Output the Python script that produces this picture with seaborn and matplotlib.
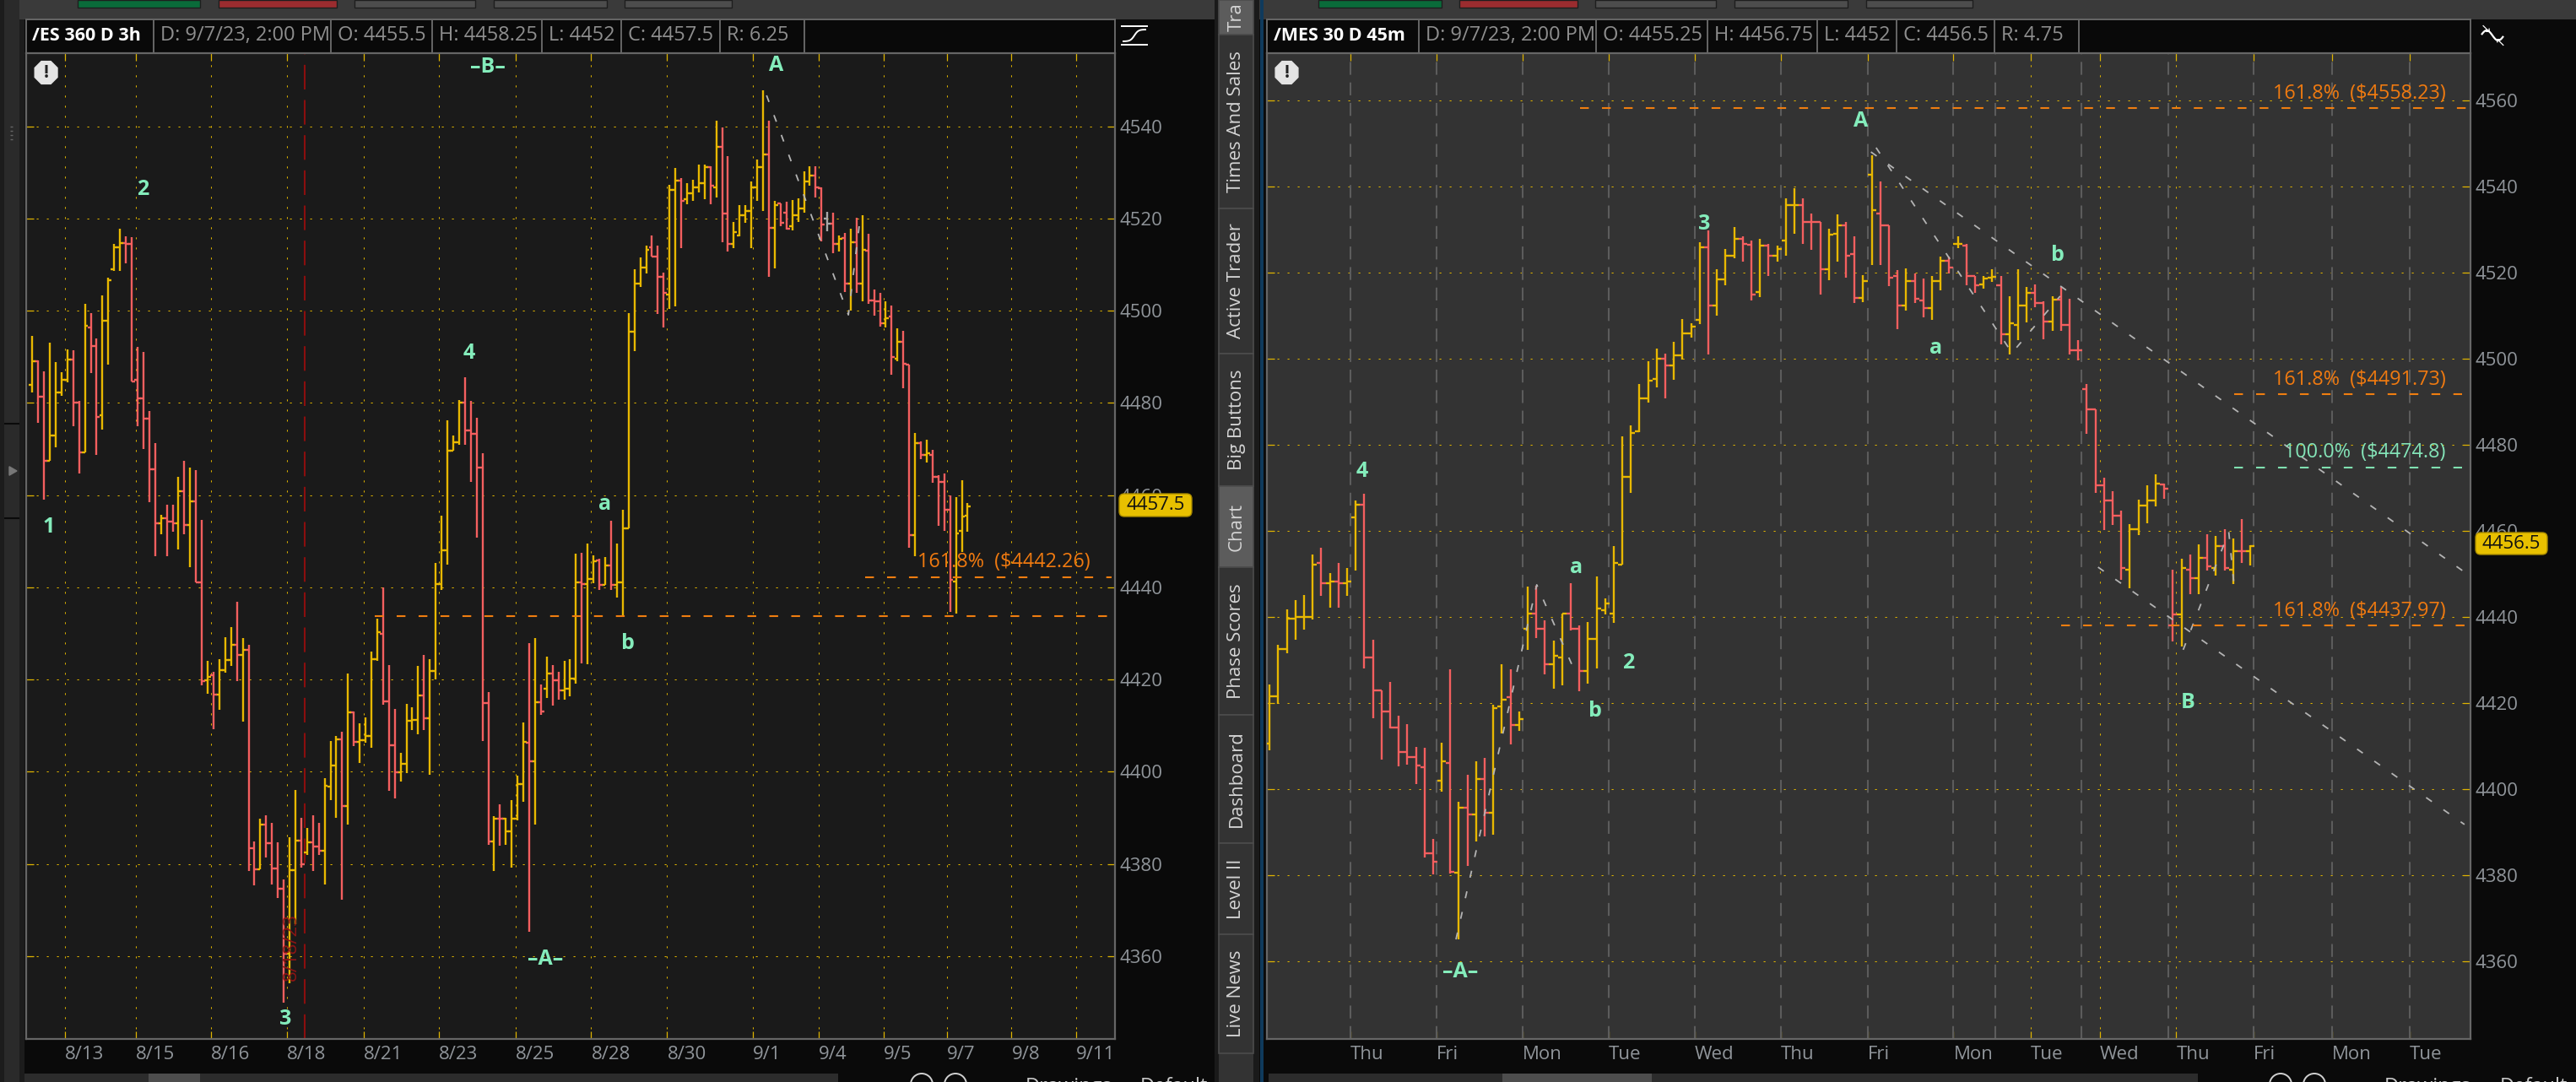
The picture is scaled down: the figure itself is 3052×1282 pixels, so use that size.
import numpy as np
import pandas as pd
import seaborn as sns
import matplotlib
matplotlib.use("Agg")
import matplotlib.pyplot as plt
from matplotlib.patches import Rectangle, FancyBboxPatch, RegularPolygon, Circle

# ------------------------------------------------------------------ data
ES_OPEN = [4484,4489,4481.4,4467.5,4473,4482.2,4485,4489.4,4480,4469.2,
 4496.4,4492.4,4477.4,4497.8,4509,4513.7,4514.7,4514.4,4485,4481,
 4476.6,4465.6,4453.9,4455,4454.3,4453.9,4460.9,4453.5,4458.6,4441.1,
 4419.9,4421,4416.8,4422,4424.2,4427.6,4425.3,4426.4,4383.5,4378.9,
 4388.6,4384.5,4379,4374.7,4360.5,4378.6,4385,4382.6,4384.7,4383.8,
 4382.8,4396.8,4401.4,4407,4392.6,4412.9,4406.5,4406.9,4407.7,4424.5,
 4430,4415.3,4405.8,4399.9,4401.8,4411,4411.2,4416.5,4411.7,4421.9,
 4440.8,4448,4469.7,4471.5,4480,4474.1,4473.3,4466,4415,4384.9,
 4389.9,4389.8,4387.1,4389.8,4397.3,4406.3,4402.2,4415.1,4418,4421.4,
 4419.8,4417.6,4418,4420.2,4441.1,4440.8,4441.9,4445.8,4440.5,4444.8,
 4440.5,4441,4452.8,4495.4,4505.9,4509.3,4513.7,4511.8,4507.4,4503.5,
 4526.2,4528.3,4524.2,4525.4,4526.8,4527.6,4531.2,4526.8,4535.6,4521,
 4514.5,4516.4,4520.7,4521.6,4526.8,4531.2,4533.8,4518,4523.2,4521.3,
 4518.4,4520.7,4522.1,4528,4529.4,4526.6,4519.9,4518.8,4514.5,4515.8,
 4505.9,4514.8,4505.9,4513.1,4502.3,4502,4497.3,4498.7,4489.6,4493.2,
 4488.3,4451.4,4471.3,4468.7,4468.8,4463.9,4462.8,4456.9,4441.2,4452.2,
 4455.5]
ES_HIGH = [4494.6,4489.2,4486.9,4493.1,4488.8,4486.6,4491.6,4491.4,4480.4,4501.4,
 4499.5,4493.9,4503.4,4507.1,4514.4,4517.8,4516.2,4515.9,4492.2,4491,
 4478.2,4471.2,4455.8,4458,4458,4464,4467.5,4465.9,4465.5,4454.6,
 4424,4421.7,4424.4,4429.1,4431.3,4436.8,4429,4427.5,4384.9,4389.8,
 4390.5,4389,4384.7,4376.6,4385.8,4396,4390,4387.9,4390.5,4389,
 4398.6,4406.7,4407.8,4408.6,4421.4,4413,4410.5,4411.8,4426.1,4433.2,
 4440,4423.1,4413.6,4404.1,4414.7,4414,4422.9,4425.3,4424.4,4445.3,
 4455.5,4476.3,4473,4480.7,4485.5,4480.4,4476.7,4469,4417.2,4390.4,
 4393,4390.1,4393.8,4399.2,4410.7,4427.9,4429,4418.9,4425,4423.2,
 4421.7,4424,4424.4,4447.3,4447.4,4449.5,4446.9,4446.2,4446.5,4454.5,
 4449.5,4456.9,4499.5,4509,4511.5,4514.1,4516.3,4514.1,4508.2,4527.3,
 4530.9,4528.7,4527.6,4528.4,4531.6,4531.6,4531.3,4541.2,4539.8,4533.5,
 4519.2,4522.9,4522.9,4528,4532.7,4547.8,4541.2,4523.9,4523.3,4523.6,
 4524,4524.4,4530.2,4531.3,4531.3,4526.8,4521.5,4521.3,4516.3,4516.9,
 4517.8,4520.2,4520.7,4516.6,4504.6,4503.8,4502,4501.2,4496.2,4495.7,
 4488.3,4473.5,4471.6,4472,4469.8,4464.4,4464.7,4459.9,4459.6,4463.3,
 4458.25]
ES_LOW = [4482.3,4475.7,4459,4467.5,4470.3,4481.6,4484.5,4475,4464.7,4469.2,
 4486.4,4468.8,4474.3,4488.3,4508.7,4508.7,4510.2,4484.7,4475,4470,
 4458.5,4446.8,4451.5,4446.8,4452,4448.3,4451.5,4444.3,4441.1,4418.7,
 4417,4409.3,4413.5,4421.5,4422.9,4419.6,4410.8,4378.5,4375.3,4378.9,
 4381.4,4375.6,4372.6,4350,4354.2,4367,4379.2,4381.9,4378.5,4381.9,
 4375.5,4393.9,4390.1,4372.3,4388.6,4405.6,4402,4406.3,4405.2,4424,
 4414.6,4395.8,4394.3,4397.9,4399.8,4409,4408.2,4409,4399.4,4420,
 4439.5,4445,4469.7,4471,4470.9,4462.9,4450.8,4406.7,4384.1,4378.5,
 4384,4384.1,4379.2,4389.4,4393.5,4365.3,4388.6,4412.3,4416,4414.4,
 4415.6,4415.6,4416.3,4419.1,4423.6,4423.4,4440.9,4439.4,4440.5,4439.4,
 4437.7,4433.8,4452.8,4491.3,4505.2,4508,4511.7,4499.2,4496.3,4500.4,
 4501,4513.5,4523.1,4523.8,4525.6,4524.1,4523.1,4524.5,4514.9,4512.8,
 4513.5,4516.1,4519,4513.5,4523.8,4521.6,4507.3,4509.1,4518.3,4517.6,
 4517.5,4519.3,4521.2,4527.1,4524.5,4515,4517.2,4512.5,4512.8,4504.1,
 4500.1,4503.8,4502,4501.5,4498.9,4496.5,4496.3,4486.1,4489.1,4483.2,
 4448.6,4446.8,4467.8,4467,4462.6,4453.4,4452.3,4434.7,4434.3,4447.6,
 4452]
ES_CLOSE = [4489.1,4481.4,4467.5,4473,4482.2,4485,4489.4,4480,4469.2,4496.8,
 4492.4,4477,4497.8,4506.7,4513.7,4514.7,4514.4,4484.7,4481,4476.6,
 4465.6,4453.9,4455,4454.3,4453.9,4460.9,4453.5,4458.6,4441.1,4419.6,
 4420.6,4416.8,4422,4424.2,4427.6,4425.3,4426.4,4383.5,4378.9,4388.6,
 4384.5,4379,4374.7,4360.5,4378.6,4385,4380,4384.7,4383.8,4382.8,
 4397,4401.4,4407,4392.6,4412.9,4406.5,4406.9,4407.7,4424.5,4430.2,
 4415.3,4405.8,4399.9,4401.8,4411,4411.2,4416.5,4411.7,4421.9,4440.8,
 4448,4469.7,4471.5,4480,4474.1,4473.3,4466,4415,4384.9,4389.9,
 4389.8,4387.1,4389.8,4397.3,4406.5,4402.2,4415.1,4413.1,4421.4,4419.8,
 4417.6,4418,4420.2,4441.1,4440.8,4441.9,4445.6,4440.5,4444.8,4440.5,
 4441.1,4452.8,4495.4,4505.9,4509.3,4513.2,4511.8,4507.4,4503.8,4526.2,
 4528.3,4523.9,4525.4,4526.8,4527.6,4531.2,4527.1,4535.6,4521,4514.5,
 4517,4520.7,4521.6,4526.8,4531.2,4533.8,4518,4522.9,4519.1,4517.8,
 4520.7,4522.1,4528,4529.4,4526.8,4518.7,4518.8,4514.5,4515.6,4505.9,
 4514.8,4505.9,4513.2,4502.3,4502,4497.3,4498.3,4489.9,4493.2,4488.5,
 4451.4,4471.3,4468.7,4469.1,4463.9,4462.8,4456.9,4441.6,4451.7,4455.4,
 4457.5]
ES_DIR = """u d d u u u u d d u  d d u u u u d d d d  d d u d d u d u d d
 u d u u u d u d d u  d d d d u u d u d d  u u u d u d u u u u
 d d d u u u u d u u  u u u u d d d d d u  d u u u u d u d u d
 d u u u d u u d u d  u u u u u u d d d u  u d u u u u d u d d
 u u u u u u d u d d  u u u u d d n d u d  u d u d d d u d u d
 d u d u d d d d u u u""".split()

MES_OPEN = [4410.6,4421.6,4432.6,4439.6,4440,4440,4452.6,4447.8,4448.3,4447.8,
 4463.1,4466.2,4430.7,4422.9,4418.1,4414.4,4408.7,4407.5,4405.2,4385.1,
 4402,4406,4380.5,4395.7,4394.2,4402.4,4394.5,4419.2,4421.3,4415,
 4437.3,4440.8,4437.3,4429,4430.7,4440.8,4437.2,4427.4,4434.9,4441.5,
 4440.8,4452.2,4472.6,4483.1,4490.9,4495.4,4500,4498.4,4500.8,4505.9,
 4509,4526,4512.5,4518.4,4524,4527.9,4526.5,4515.5,4526.3,4524,
 4527.5,4535.7,4535.7,4531.8,4531.8,4520.9,4529.1,4531.1,4524.4,4514.1,
 4542.8,4533.8,4531.1,4519.3,4512.5,4518.1,4513.5,4511.8,4518.1,4522.8,
 4526.8,4526.3,4519.3,4517.4,4518.8,4517.2,4505.7,4507.9,4512.5,4515.3,
 4513,4508.6,4513.7,4507.9,4502,4492.9,4488.2,4470.7,4467.1,4463.6,
 4451,4460.5,4465.9,4467.1,4470.8,4438.1,4440.7,4451,4449,4453.8,
 4451.4,4456.5,4451,4455.3,4455.25]
MES_HIGH = [4424.4,4433.5,4441.7,4444,4445.2,4454.6,4456.2,4450.3,4452.6,4451.5,
 4467,4468.7,4434.7,4422.9,4424.9,4417.1,4415.1,4409.9,4409.6,4388.4,
 4410.8,4427.9,4397,4403.3,4406.4,4407.2,4419.7,4429.1,4427.9,4418.1,
 4447.1,4447.3,4439.3,4434.5,4440.8,4447.8,4438,4438.9,4449.4,4444.3,
 4456.6,4482,4484.5,4494.2,4499.4,4502.5,4501.3,4504,4509.2,4508.3,
 4527.2,4529.8,4520.9,4525.6,4530.7,4528.4,4527.6,4527.9,4526.8,4526.3,
 4537.4,4539.6,4537.4,4533.8,4531.8,4530.3,4533.5,4531.8,4528.4,4519.5,
 4547.4,4541.3,4531.1,4520.6,4521.1,4519.8,4518.6,4519.3,4523.7,4523.7,
 4528.4,4526.8,4519.3,4519.3,4520.9,4519.3,4514.6,4520.9,4516.7,4517.4,
 4513.4,4514.6,4516.7,4513.9,4504.4,4494.2,4488.2,4472.3,4469.2,4464.8,
 4461.6,4467.2,4470.7,4473.1,4471.1,4451,4453.5,4454.6,4456.9,4459.3,
 4458.9,4460.5,4458.2,4462.8,4456.75]
MES_LOW = [4409,4419.9,4431.6,4434.8,4437,4439.4,4444.9,4442.2,4442.2,4444.9,
 4450.8,4428,4416.4,4406.9,4414.1,4405.4,4405.7,4401.1,4384.2,4380.2,
 4399.5,4380.3,4365,4382.2,4387.8,4389,4389.4,4412.9,4410.4,4413.6,
 4432.4,4435.1,4426.6,4423.4,4424.2,4436.9,4422.7,4424.6,4428,4440.6,
 4438.7,4452.2,4468.9,4482.9,4489.8,4493.3,4490.8,4495.1,4499.8,4505,
 4508.1,4501.1,4510.1,4517.2,4523.4,4522.7,4513.6,4514.4,4519.2,4522.7,
 4523.9,4529,4526.7,4525.4,4514.9,4518.3,4522.7,4518.8,4512.9,4513.2,
 4521.8,4521.9,4516.9,4506.9,4511.3,4512.9,4509.7,4509,4516,4519.9,
 4525.8,4517.2,4515.3,4516.4,4517.9,4503.4,4501.1,4504.3,4508.5,4512.1,
 4504.5,4506.5,4506.5,4501.1,4499.7,4482.5,4468.9,4460.2,4461.5,4448.6,
 4446.6,4459,4461.8,4465.8,4467.4,4434.4,4433.2,4445.4,4445.4,4450.8,
 4449.7,4450.8,4447.6,4452.5,4452]
MES_CLOSE = [4421.6,4432.6,4439.6,4440,4440,4452.2,4447.8,4448.3,4447.8,4448.3,
 4466.2,4430.7,4422.9,4418.1,4414.4,4408.7,4407.5,4405.5,4385.1,4383.1,
 4406.4,4380.7,4395.7,4394.2,4402.4,4394.5,4418.8,4420.9,4415,4416.2,
 4440.8,4437.3,4429,4431,4440.8,4437.2,4427.4,4434.9,4441.9,4443.1,
 4452.5,4472.5,4482.7,4490.9,4494.9,4500,4498.4,4500.8,4505.9,4507.5,
 4526,4512.5,4518.4,4524,4527.9,4526.8,4515,4526.3,4524,4525.6,
 4535.8,4535.7,4531.8,4531.8,4520.9,4528.8,4531.1,4524,4514.1,4518.1,
 4534.6,4531.1,4518.8,4512.5,4518.1,4513.9,4511.8,4518.1,4522.8,4521.2,
 4526.8,4519.3,4517.1,4518.6,4519,4505.7,4508.3,4512.5,4515.3,4513,
 4508.6,4513.7,4507.9,4502,4502,4488.2,4470.7,4467.1,4463.6,4451.4,
 4460.5,4465.9,4467.1,4471.1,4469.8,4440.7,4451.4,4449,4453.8,4451.8,
 4456.5,4451.4,4455.3,4455.3,4456.5]
MES_DIR = """u u u u u u d u d u  u d d d d d d d d d  u d u d u d u u d u
 u d d u u d d u u u  u u u u u u d u u u  u d u u u d d u d u
 u u d d d u u d d u  u d d d u d d u u d  u d d u u d u u u d
 d u d d d d d d d d  u u u u d d u d u d  u d u d u""".split()

ES_TICK_POS = [5.52,17.7,30.6,43.6,56.65,69.6,82.7,95.6,108.6,123.3,134.5,145.6,156.5,167.5,178.5]
ES_TICK_LAB = ["8/13","8/15","8/16","8/18","8/21","8/23","8/25","8/28","8/30","9/1","9/4","9/5","9/7","9/8","9/11"]
MES_TICK_POS = [9.4,19.4,29.4,39.4,49.4,59.4,69.5,79.5,88.5,96.5,105.4,114.4,123.5,132.5]
MES_TICK_LAB = ["Thu","Fri","Mon","Tue","Wed","Thu","Fri","Mon","Tue","Wed","Thu","Fri","Mon","Tue"]
MES_DAY_LINES = [9.4,19.4,29.4,39.4,49.4,59.4,69.5,79.5,84.4,94.4,104.5,114.4,123.5,132.5]
MES_DOT_LINES = [88.5,96.5,105.4]
ES_Y = [4360,4380,4400,4420,4440,4460,4480,4500,4520,4540]
MES_Y = [4360,4380,4400,4420,4440,4460,4480,4500,4520,4540,4560]

ES_WAVE = [("1",2.8,4453.1),("2",18.9,4526.2),("3",43.3,4346.3),("4",74.7,4490.7),("a",98,4458.1),
           ("b",101.9,4427.9),("–A–",87.8,4359.4),("–B–",77.9,4552.8),("A",127.2,4553.2)]
MES_WAVE = [("4",10.75,4473.9),("a",35.6,4451.6),("2",41.7,4429.4),("b",37.8,4418.1),("–A–",22.2,4357.6),
            ("3",50.5,4531.4),("A",68.7,4555.2),("a",77.4,4502.6),("b",91.6,4524),("B",106.7,4420.2)]
ES_TREND = [[(125.6,4546.7),(139.6,4499.1),(141.5,4518.9)]]
MES_TREND = [[(21.66,4365.1),(31.05,4447.5),(35.5,4427.3)],
             [(70.5,4549.1),(86.3,4501.4),(91.9,4514.6)],
             [(69.9,4548.1),(139.3,4449.9)],
             [(96.3,4451.6),(138.9,4391.8)],
             [(106.2,4432.4),(111.5,4459.8),(112.1,4447.7)]]
# level, first bar index, last bar index, colour key, label
ES_LEVELS = [(4442.26,142.5,184.6,"o","161.8%  ($4442.26)"),(4433.7,58.6,184.6,"o",None)]
MES_LEVELS = [(4558.23,36.1,139.3,"o","161.8%  ($4558.23)"),(4491.73,112.1,138.6,"o","161.8%  ($4491.73)"),
              (4474.8,112.1,138.6,"g","100.0%  ($4474.8)"),(4437.97,92.0,138.9,"o","161.8%  ($4437.97)")]
ES_HEAD = [("/ES 360 D 3h",38),("D: 9/7/23, 2:00 PM",190),("O: 4455.5",400),("H: 4458.25",520),("L: 4452",650),("C: 4457.5",744),("R: 6.25",861)]
MES_HEAD = [("/MES 30 D 45m",1509),("D: 9/7/23, 2:00 PM",1689),("O: 4455.25",1899),("H: 4456.75",2031),("L: 4452",2161),("C: 4456.5",2255),("R: 4.75",2371)]
TABS = [("Tra",0,41),("Times And Sales",41,247),("Active Trader",247,419),("Big Buttons",419,576),("Chart",576,672),
        ("Phase Scores",672,847),("Dashboard",847,999),("Level II",999,1107),("Live News",1107,1248)]

# ------------------------------------------------------------------ style
W, H = 3052, 1282
sns.set_theme(style="dark")
plt.rcParams.update({"font.family": ["Open Sans", "DejaVu Sans"], "lines.scale_dashes": False,
                     "axes.grid": False, "lines.solid_capstyle": "butt"})
YEL, RED, GRY = "#e8b800", "#f45f5f", "#a8a8a8"
PAL = {"u": YEL, "d": RED, "n": GRY}
GRID = "#e0b400"
GREEN = "#84ecbb"
LEVEL_COL = {"o": "#ef7d10", "g": "#7fe0b0"}
TXT_ORANGE = {"o": "#f07a10", "g": "#84e4b8"}
DOT = (0, (1.6, 7.04))
LVL = (0, (7.5, 11.2))
TRD = (0, (6, 12))
BORDER = "#666666"
LABEL = "#90959a"
BAR_LW = 1.7

fig = plt.figure(figsize=(W / 100, H / 100), dpi=100, facecolor="#0a0a0a")

def px_axes(l, t, r, b, z):
    return fig.add_axes([l / W, 1 - b / H, (r - l) / W, (b - t) / H], zorder=z)

bg = px_axes(0, 0, W, H, 0)
bg.set_xlim(0, W); bg.set_ylim(H, 0); bg.axis("off")
over = px_axes(0, 0, W, H, 5)
over.set_xlim(0, W); over.set_ylim(H, 0); over.axis("off"); over.patch.set_alpha(0)

def rect(a, x0, y0, x1, y1, c, **k):
    a.add_patch(Rectangle((x0, y0), x1 - x0, y1 - y0, facecolor=c, edgecolor=k.pop("ec", "none"), lw=k.pop("lw", 0), **k))

# ------------------------------------------------------------------ chrome
rect(bg, 0, 0, W, 23, "#3a3a3a")
rect(bg, 5, 0, 23, H, "#2a2a2a")
rect(bg, 0, 0, 5, H, "#1c1c1c")
rect(bg, 23, 23, 29, H, "#1c1c1c")
for y in (502, 614):
    bg.plot([5, 23], [y, y], color="#0a0a0a", lw=1.5)
for y in (150, 155, 160, 165):
    bg.plot([12, 15], [y, y], color="#666666", lw=1)
bg.add_patch(RegularPolygon((14, 558), 3, radius=6, orientation=-np.pi / 2, color="#777777"))
for x0, x1, c in [(92, 237, "#0a6b3a"), (259, 399, "#9b2c2f"), (420, 563, "#4d4d4d"), (585, 719, "#4d4d4d"), (740, 867, "#4d4d4d"),
                  (1562, 1708, "#0a6b3a"), (1729, 1869, "#9b2c2f"), (1890, 2033, "#4d4d4d"), (2055, 2189, "#4d4d4d"), (2211, 2337, "#4d4d4d")]:
    rect(bg, x0, 0, x1, 9, c, ec="#1e1e1e", lw=1)

for head, x0, x1 in [(ES_HEAD, 31, 1321), (MES_HEAD, 1501, 2927)]:
    rect(bg, x0, 23, x1, 63, "#090909", ec=BORDER, lw=1.4)
    for i, (txt, x) in enumerate(head):
        bg.text(x, 42, txt, color="white" if i == 0 else "#8e8e8e", fontsize=15.5 if i == 0 else 17,
                fontweight="bold" if i == 0 else "normal", va="center", ha="left")
        if i:
            bg.plot([x - 8, x - 8], [23, 63], color=BORDER, lw=1.4)
    last = head[-1][1] + 92
    bg.plot([last, last], [23, 63], color=BORDER, lw=1.4)

rect(bg, 1439, 0, 1492, H, "#1a1a1a")
rect(bg, 1444, 0, 1485, 1282, "#333333")
rect(bg, 1493, 0, 1497, H, "#0f3a5c")
for txt, y0, y1 in TABS:
    lit = txt in ("Chart", "Tra")
    rect(bg, 1444, y0, 1485, y1, "#5c5c5c" if lit else "#333333", ec="#4c4c4c", lw=1.2)
    bg.text(1465, (y0 + y1) / 2, txt, rotation=90, color="#d4d4d4", fontsize=16, va="center", ha="center")

rect(bg, 29, 1272, 993, H, "#2c2c2c")
rect(bg, 176, 1272, 237, H, "#4d4d4d")
rect(bg, 1503, 1272, 2604, H, "#2c2c2c")
rect(bg, 1780, 1272, 1957, H, "#4d4d4d")
for xc in (1092, 1132, 2702, 2742):
    bg.add_patch(Circle((xc, 1285), 13, fill=False, ec="#d0d0d0", lw=1.4))
bg.text(1215, 1276, "Drawings", color="#c8c8c8", fontsize=17, va="top")
bg.text(1351, 1276, "Default", color="#c8c8c8", fontsize=17, va="top")
bg.text(2825, 1276, "Drawings", color="#c8c8c8", fontsize=17, va="top")
bg.text(2962, 1276, "Default", color="#c8c8c8", fontsize=17, va="top")

# small study icons right of the headers
t = np.linspace(-1, 1, 30)
bg.plot(1344 + 14 * t, 42 - 7 * np.tanh(3 * t), color="white", lw=1.4)
bg.plot([1328, 1360], [31, 31], color="white", lw=1.4)
bg.plot([1328, 1360], [53, 53], color="white", lw=1.4)
bg.plot(2953 + 13 * t, 42 + 6 * np.sin(3 * t), color="white", lw=1.6)
bg.text(2945, 34, "↘", color="white", fontsize=11, ha="center", va="center", family="DejaVu Sans")
bg.text(2962, 50, "↖", color="white", fontsize=11, ha="center", va="center", family="DejaVu Sans")

# ------------------------------------------------------------------ charts
def draw(ax, o, h, l, c, d, tick_w, face, xlim, ylim, yt, xt, xl):
    ax.set_facecolor(face)
    frame = pd.DataFrame({"bar": np.arange(len(o)), "open": o, "high": h, "low": l, "close": c, "dir": d})
    long = frame.melt(id_vars=["bar", "dir"], value_vars=["high", "low"], value_name="price")
    for v in yt:
        ax.axhline(v, color=GRID, lw=0.75, ls=DOT, zorder=1)
    sns.lineplot(data=long, x="bar", y="price", hue="dir", units="bar", estimator=None, palette=PAL,
                 legend=False, lw=BAR_LW, sort=False, ax=ax, zorder=3)
    cols = frame["dir"].map(PAL).tolist()
    ax.hlines(frame["open"], frame["bar"] - tick_w, frame["bar"], colors=cols, lw=BAR_LW, zorder=3)
    ax.hlines(frame["close"], frame["bar"], frame["bar"] + tick_w, colors=cols, lw=BAR_LW, zorder=3)
    ax.set_xlim(*xlim); ax.set_ylim(*ylim)
    ax.set_xlabel(""); ax.set_ylabel("")
    ax.set_yticks(yt); ax.set_xticks(xt); ax.set_xticklabels(xl, ha="left")
    ax.tick_params(axis="both", which="major", direction="in", length=6.5, width=0.9, color=GRID,
                   top=True, bottom=True, left=True, right=True, labelleft=False, labelright=True,
                   labelcolor=LABEL, labelsize=16)
    ax.tick_params(axis="y", pad=4); ax.tick_params(axis="x", pad=6)
    for s in ax.spines.values():
        s.set_color(BORDER); s.set_linewidth(1.6); s.set_visible(True)

def overlays(ax, wave, trend, levels, label_x, label_dy):
    for txt, x, y in wave:
        ax.text(x, y, txt, color=GREEN, fontsize=18, fontweight="bold", ha="center", va="center", zorder=6)
    for seg in trend:
        xs, ys = zip(*seg)
        ax.plot(xs, ys, color="#b4b4b4", lw=1.3, ls=TRD, zorder=4)
    for val, x0, x1, key, lab in levels:
        ax.plot([x0, x1], [val, val], color=LEVEL_COL[key], lw=1.5, ls=LVL, zorder=4)
        if lab:
            ax.text(label_x, val + label_dy, lab, color=TXT_ORANGE[key], fontsize=16.8, ha="right", va="center", zorder=6)

a1 = px_axes(31, 63, 1321, 1231, 1)
draw(a1, ES_OPEN, ES_HIGH, ES_LOW, ES_CLOSE, ES_DIR, 0.55, "#1a1a1a", (-1.05, 185.2), (4342.06, 4555.85),
     ES_Y, ES_TICK_POS, ES_TICK_LAB)
for x in ES_TICK_POS:
    a1.axvline(x, color=GRID, lw=0.75, ls=DOT, zorder=1)
a1.axvline(46.6, color="#8b0e0e", lw=1.5, ls=(0, (21, 9)), zorder=2)
a1.text(44.4, 4362, "8/18/23", color="#8b1515", rotation=90, fontsize=16, ha="center", va="center", zorder=6)
overlays(a1, ES_WAVE, ES_TREND, ES_LEVELS, 181, 3.3)

a2 = px_axes(1501, 63, 2927, 1231, 1)
draw(a2, MES_OPEN, MES_HIGH, MES_LOW, MES_CLOSE, MES_DIR, 0.5, "#333333", (-0.32, 139.6), (4341.95, 4571.06),
     MES_Y, MES_TICK_POS, MES_TICK_LAB)
for x in MES_DAY_LINES:
    a2.axvline(x, color="#5c5c5c", lw=1.5, ls=(0, (11, 6.5)), zorder=1)
for x in MES_DOT_LINES:
    a2.axvline(x, color=GRID, lw=0.75, ls=DOT, zorder=1)
overlays(a2, MES_WAVE, MES_TREND, MES_LEVELS, 136.7, 3.5)

# ------------------------------------------------------------------ alert badges, last-price tags
for xc in (54.6, 1524.5):
    over.add_patch(RegularPolygon((xc, 86), 8, radius=14.5, orientation=np.pi / 8, color="#e4e4e4"))
    over.text(xc, 86, "!", color="#222222", fontsize=15, fontweight="bold", ha="center", va="center")
for x0, x1, y0, y1, txt in [(1326, 1412, 585, 612, f"{ES_CLOSE[-1]}"), (2933, 3018, 631, 657, f"{MES_CLOSE[-1]}")]:
    over.add_patch(FancyBboxPatch((x0 + 4, y0 + 4), x1 - x0 - 8, y1 - y0 - 8, boxstyle="round,pad=4,rounding_size=6",
                                  fc="#e8c000", ec="#a88a00", lw=1))
    over.text((x0 + x1) / 2, (y0 + y1) / 2, txt, color="#111111", fontsize=16, ha="center", va="center")

assert all(len(a) == 161 for a in (ES_OPEN, ES_HIGH, ES_LOW, ES_CLOSE, ES_DIR))
assert all(len(a) == 115 for a in (MES_OPEN, MES_HIGH, MES_LOW, MES_CLOSE, MES_DIR))
fig.savefig("out.png", dpi=100, facecolor=fig.get_facecolor())
